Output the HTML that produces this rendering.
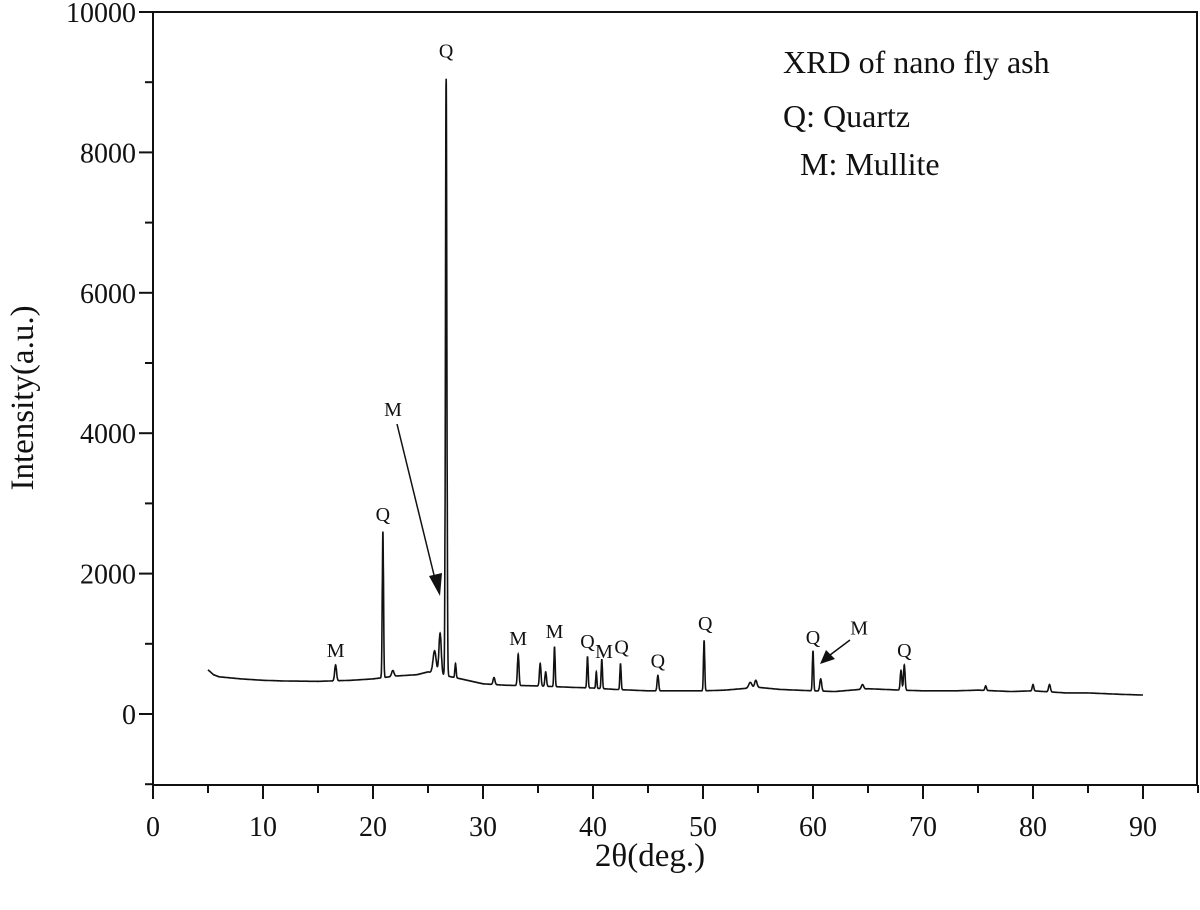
<!DOCTYPE html>
<html><head><meta charset="utf-8"><style>
body{margin:0;background:#fff}
svg{display:block;font-family:"Liberation Serif",serif}
</style></head><body>
<svg id="chart" width="1200" height="910" viewBox="0 0 1200 910" xmlns="http://www.w3.org/2000/svg">
<g id="axes"></g>
<path id="spectrum" fill="none" stroke="#111" stroke-width="1.6"/>
<g id="labels"></g>
<g font-size="32" fill="#111">
<text x="783" y="73">XRD of nano fly ash</text>
<text x="783" y="127">Q: Quartz</text>
<text x="800" y="175">M: Mullite</text>
</g>
<text x="650" y="866" font-size="33" text-anchor="middle" fill="#111">2θ(deg.)</text>
<text transform="translate(33,398) rotate(-90)" font-size="33" text-anchor="middle" fill="#111">Intensity(a.u.)</text>
</svg>
<script>
const xTicks=[0,10,20,30,40,50,60,70,80,90];
const yTicks=[0,2000,4000,6000,8000,10000];
const baseX=[5,5.5,6,8,10,12,15,18,20,22,24,25,28,30,32,35,38,40,42,45,48,50,52,55,57,60,62,65,68,70,73,75,78,80,83,85,88,90];
const baseY=[630,560,530,500,480,470,465,480,500,540,560,600,500,430,410,400,380,370,350,330,330,330,340,380,350,330,320,360,340,330,330,340,320,330,300,300,280,270];
const peakPos=[16.6,20.9,21.8,25.6,26.1,26.65,27.5,31,33.2,35.2,35.7,36.5,39.5,40.3,40.8,42.5,45.9,50.1,54.3,54.8,60.0,60.7,64.5,68.0,68.3,75.7,80,81.5];
const peakInt=[700,2600,620,900,1150,9050,720,520,850,720,600,960,820,600,780,720,550,1050,450,480,900,500,420,620,700,400,420,420];
const peakWid=[0.12,0.08,0.15,0.2,0.15,0.09,0.08,0.12,0.1,0.1,0.1,0.08,0.08,0.07,0.08,0.08,0.1,0.08,0.2,0.15,0.08,0.12,0.15,0.1,0.1,0.1,0.1,0.12];
const labelText=["M","Q","Q","M","M","Q","M","Q","Q","Q","Q","M","Q"];
const labelX=[16.6,20.9,26.65,33.2,36.5,39.5,41.0,42.6,45.9,50.2,60.0,64.2,68.3];
const labelY=[810,2750,9350,980,1080,940,800,860,660,1200,1000,1130,810];
const X0=153,XS=11,Y0=714,YS=0.0702;
const sx=v=>X0+v*XS, sy=v=>Y0-v*YS;
const NS="http://www.w3.org/2000/svg";
function el(tag,attrs,parent){const e=document.createElementNS(NS,tag);for(const k in attrs)e.setAttribute(k,attrs[k]);parent.appendChild(e);return e;}
const axes=document.getElementById('axes');
const frame=el('rect',{x:153,y:12,width:1044,height:773,fill:'none',stroke:'#111','stroke-width':2},axes);


for(let v=0;v<=95;v+=5){const major=v%10===0;const t=el('line',{x1:sx(v),x2:sx(v),y1:785,y2:785+(major?14:8),stroke:'#111','stroke-width':2},axes);

}
xTicks.forEach(v=>{const t=el('text',{x:sx(v),y:836,'font-size':28,'text-anchor':'middle',fill:'#111'},axes);t.textContent=v;

});
for(let v=-1000;v<=10000;v+=1000){const major=v%2000===0;const t=el('line',{x1:153,x2:153-(major?14:8),y1:sy(v),y2:sy(v),stroke:'#111','stroke-width':2},axes);

}
yTicks.forEach(v=>{const t=el('text',{x:136,y:sy(v)+10,'font-size':28,'text-anchor':'end',fill:'#111'},axes);t.textContent=v;

});
function base(x){for(let i=0;i<baseX.length-1;i++){if(x<=baseX[i+1]){const f=(x-baseX[i])/(baseX[i+1]-baseX[i]);return baseY[i]+f*(baseY[i+1]-baseY[i]);}}return baseY[baseY.length-1];}
function intensity(x){let b=base(x),s=b;for(let i=0;i<peakPos.length;i++){const h=peakInt[i]-base(peakPos[i]);const d=(x-peakPos[i])/peakWid[i];s+=h*Math.exp(-d*d);}return s;}
let d='';for(let x=5;x<=90.001;x+=0.01){d+=(d?'L':'M')+sx(x).toFixed(1)+','+sy(intensity(x)).toFixed(1);}
document.getElementById('spectrum').setAttribute('d',d);
const lab=document.getElementById('labels');
labelText.forEach((t,i)=>{const e=el('text',{x:sx(labelX[i]),y:sy(labelY[i]),'font-size':20,'text-anchor':'middle',fill:'#111'},lab);e.textContent=t;

});
const m1=el('text',{x:393,y:416,'font-size':20,'text-anchor':'middle',fill:'#111'},lab);m1.textContent='M';


const a1=el('line',{x1:397,y1:424,x2:434,y2:575,stroke:'#111','stroke-width':1.5},lab);


const h1=el('polygon',{points:'440,596 429,576 442,573',fill:'#111'},lab);


const a2=el('line',{x1:850,y1:640,x2:830,y2:655,stroke:'#111','stroke-width':1.5},lab);


const h2=el('polygon',{points:'820,664 826,650 835,659',fill:'#111'},lab);


</script>
</body></html>
